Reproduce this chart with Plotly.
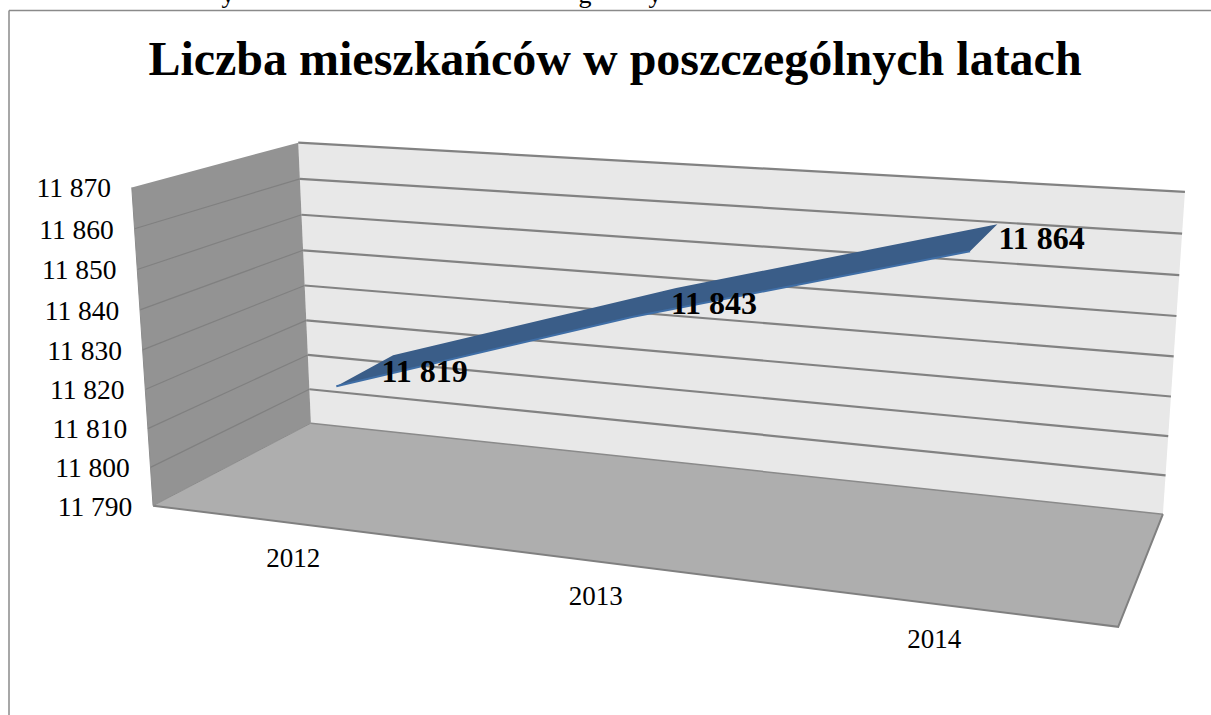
import numpy as np
import plotly.graph_objects as go

# ---- data ----
title = "Liczba mieszkańców w poszczególnych latach"
years = ["2012", "2013", "2014"]
residents = [11819, 11843, 11864]
value_labels = ["11 819", "11 843", "11 864"]
axis_values = [11790, 11800, 11810, 11820, 11830, 11840, 11850, 11860, 11870]
axis_labels = ["11 790", "11 800", "11 810", "11 820", "11 830", "11 840", "11 850", "11 860", "11 870"]
clipped_letters = ["y", "g", "y"]

# ---- perspective of the pseudo-3D box (Plotly's 3D scene has a fixed field of view) ----
W, H = 1211, 715
V0, V1 = axis_values[0], axis_values[-1]
box = [((0, 0, 0), (153, 506)), ((0, 1, 0), (132, 187)), ((0, 0, 1), (311, 423)),
       ((0, 1, 1), (298, 143)), ((1, 0, 1), (1163, 514)), ((1, 1, 1), (1185, 192)),
       ((1, 0, 0), (1118, 627))]
A = []
for (u, v, d), (x, y) in box:
    A.append([u, v, d, 1, 0, 0, 0, 0, -x*u, -x*v, -x*d, -x])
    A.append([0, 0, 0, 0, u, v, d, 1, -y*u, -y*v, -y*d, -y])
P = np.linalg.svd(np.array(A, float))[2][-1].reshape(3, 4)


def proj(u, v, d):
    p = P @ np.array([u, v, d, 1.0])
    return p[0]/p[2], p[1]/p[2]


def zv(val):
    return (val - V0)/(V1 - V0)


def cat(i):
    return (i + 0.5)/len(years)


def poly(pts, color):
    xy = [proj(*p) for p in pts]
    return go.Scatter(x=[a for a, b in xy] + [xy[0][0]], y=[b for a, b in xy] + [xy[0][1]],
                      mode="lines", fill="toself", fillcolor=color, line=dict(width=0),
                      hoverinfo="skip", showlegend=False)


def seg(pts, color, width):
    xy = [proj(*p) for p in pts]
    return go.Scatter(x=[a for a, b in xy], y=[b for a, b in xy], mode="lines",
                      line=dict(color=color, width=width), hoverinfo="skip", showlegend=False)


def label(x, y, text, size, bold=False, color="#000000"):
    return go.Scatter(x=x, y=y, text=text, mode="text", textposition="middle center",
                      textfont=dict(family="Liberation Serif", size=size, color=color,
                                    weight="bold" if bold else "normal"),
                      hoverinfo="skip", showlegend=False)


fig = go.Figure()
# walls and floor
fig.add_trace(poly([(0, 0, 1), (1, 0, 1), (1, 1, 1), (0, 1, 1)], "#e8e8e8"))
fig.add_trace(poly([(0, 0, 0), (0, 0, 1), (0, 1, 1), (0, 1, 0)], "#939393"))
fig.add_trace(poly([(0, 0, 0), (1, 0, 0), (1, 0, 1), (0, 0, 1)], "#aeaeae"))
# gridlines
for val in axis_values[1:]:
    z = zv(val)
    fig.add_trace(seg([(0, z, 1), (1, z, 1)], "#828282", 2.2))
    if val != axis_values[-1]:
        fig.add_trace(seg([(0, z, 0), (0, z, 1)], "#808080", 1.2))
# box edges
fig.add_trace(seg([(0, 0, 1), (1, 0, 1)], "#8a8a8a", 1.5))
fig.add_trace(seg([(0, 0, 0), (1, 0, 0), (1, 0, 1)], "#808080", 2))
fig.add_trace(seg([(0, 0, 0), (0, 1, 0)], "#8c8c8c", 1))
fig.add_trace(seg([(0, 0, 0), (0, 0, 1)], "#8c8c8c", 1))

# ribbon of the 3D line, with a thin lighter front side
d_front, d_back = 0.305, 0.695
sag = 0.008
front = [(cat(i), zv(v) - sag, d_front) for i, v in enumerate(residents)]
back = [(cat(i), zv(v), d_back) for i, v in enumerate(residents)]
fig.add_trace(poly(front + back[::-1], "#3a5d88"))
fig.add_trace(seg(front, "#3f6ea6", 2))

# texts
fig.add_trace(label([615], [63], [title], 48, True))
ax, ay = [], []
for val in axis_values:
    x, y = proj(0, zv(val), 0)
    ax.append(x - 58)
    ay.append(y + 3)
fig.add_trace(label(ax, ay, axis_labels, 27.5))
cx, cy = [], []
for i in range(len(years)):
    x, y = proj(cat(i), 0, 0)
    cx.append(x + 0.5)
    cy.append(y + 37.5)
fig.add_trace(label(cx, cy, years, 27))
lx, ly = [], []
for i, v in enumerate(residents):
    x, y = proj(cat(i), zv(v), 0.67)
    lx.append(x + 35 + 5.5*i)
    ly.append(y + 17 - i)
fig.add_trace(label(lx, ly, value_labels, 32, True))
fig.add_trace(label([228, 585, 655], [-4, -4, -4], clipped_letters, 26))

fig.update_layout(
    width=W, height=H, margin=dict(l=0, r=0, t=0, b=0),
    paper_bgcolor="#ffffff", plot_bgcolor="#ffffff", showlegend=False,
    xaxis=dict(range=[0, W], visible=False, fixedrange=True),
    yaxis=dict(range=[H, 0], visible=False, fixedrange=True),
    shapes=[dict(type="line", xref="x", yref="y", x0=9, x1=W, y0=10.5, y1=10.5,
                 line=dict(color="#8a8a8a", width=1.5)),
            dict(type="line", xref="x", yref="y", x0=9, x1=9, y0=10.5, y1=H,
                 line=dict(color="#8a8a8a", width=1.5))],
)
fig.write_html("out.html", config=dict(displayModeBar=False),
               post_script="document.body.style.margin='0';document.body.style.overflow='hidden';")
